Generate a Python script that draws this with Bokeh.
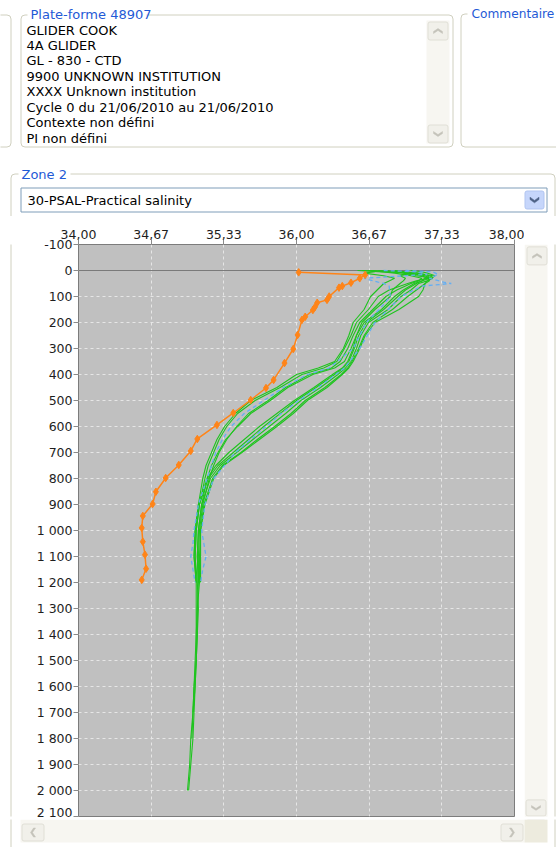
from bokeh.plotting import figure
from bokeh.models import Range1d, FixedTicker, BoxAnnotation, Span, ColumnDataSource
from bokeh.layouts import column, row
from bokeh.core.properties import value
from bokeh.embed import file_html
from bokeh.resources import INLINE

# ------------------------------------------------------------------ data
platform_title = "Plate-forme 48907"
platform_lines = [
    "GLIDER COOK",
    "4A GLIDER",
    "GL - 830 - CTD",
    "9900 UNKNOWN INSTITUTION",
    "XXXX Unknown institution",
    "Cycle 0 du 21/06/2010 au 21/06/2010",
    "Contexte non défini",
    "PI non défini",
]
comment_title = "Commentaire"
zone_title = "Zone 2"
parameter_name = "30-PSAL-Practical salinity"

x_ticks = [34.0, 34.6667, 35.3333, 36.0, 36.6667, 37.3333, 38.0]
x_tick_labels = ["34,00", "34,67", "35,33", "36,00", "36,67", "37,33", "38,00"]
y_ticks = [-100, 0, 100, 200, 300, 400, 500, 600, 700, 800, 900, 1000, 1100,
           1200, 1300, 1400, 1500, 1600, 1700, 1800, 1900, 2000, 2100]
y_tick_labels = ["-100", "0", "100", "200", "300", "400", "500", "600", "700",
                 "800", "900", "1 000", "1 100", "1 200", "1 300", "1 400",
                 "1 500", "1 600", "1 700", "1 800", "1 900", "2 000", "2 100"]

# orange profile (with markers)
orange_depth = [7, 17, 30, 47, 60, 66, 100, 113, 124, 140, 152, 178, 190, 248,
                302, 356, 421, 452, 498, 548, 594, 648, 694, 748, 798, 851, 898,
                944, 990, 1043, 1093, 1147, 1190]
orange_sal = [36.02, 36.63, 36.58, 36.50, 36.42, 36.39, 36.30, 36.28, 36.19,
              36.17, 36.15, 36.08, 36.05, 36.01, 35.97, 35.89, 35.79, 35.72,
              35.58, 35.42, 35.27, 35.09, 35.03, 34.92, 34.80, 34.71, 34.68,
              34.59, 34.58, 34.59, 34.61, 34.62, 34.58]

# green profiles
green_depth = [0, 5, 10, 20, 30, 40, 50, 75, 100, 150, 200, 250, 300, 350, 375,
               400, 450, 500, 550, 600, 650, 700, 750, 800, 900, 1000, 1100, 1200]
green_u1 = [36.70, 36.78, 36.90, 37.05, 37.15, 37.12, 37.05, 36.92, 36.82, 36.70,
            36.58, 36.52, 36.47, 36.40, 36.32, 36.12, 35.90, 35.74, 35.56, 35.45,
            35.36, 35.29, 35.24, 35.20, 35.14, 35.11, 35.10, 35.10]
green_u2 = [36.60, 36.95, 37.00, 37.18, 37.22, 37.15, 37.08, 36.98, 36.90, 36.78,
            36.62, 36.55, 36.50, 36.44, 36.35, 36.15, 35.92, 35.76, 35.58, 35.46,
            35.35, 35.28, 35.22, 35.18, 35.13, 35.10, 35.09, 35.10]
green_u3 = [36.75, 36.85, 37.10, 37.25, 37.20, 37.10, 37.02, 36.85, 36.75, 36.66,
            36.55, 36.50, 36.44, 36.37, 36.25, 36.05, 35.85, 35.62, 35.46, 35.36,
            35.29, 35.24, 35.19, 35.16, 35.11, 35.08, 35.07, 35.08]
green_u4 = [36.68, 36.72, 36.62, 36.80, 36.90, 36.85, 36.80, 36.74, 36.68, 36.62,
            36.52, 36.48, 36.43, 36.35, 36.20, 36.00, 35.82, 35.58, 35.44, 35.34,
            35.27, 35.22, 35.17, 35.14, 35.10, 35.07, 35.06, 35.08]
green_l1 = [36.80, 36.90, 37.05, 37.15, 37.20, 37.22, 37.18, 37.10, 37.02, 36.88,
            36.70, 36.62, 36.57, 36.51, 36.47, 36.41, 36.26, 36.08, 35.95, 35.80,
            35.64, 35.49, 35.32, 35.23, 35.15, 35.12, 35.11, 35.11]
green_l2 = [36.65, 36.92, 36.98, 37.10, 37.25, 37.20, 37.12, 37.05, 36.96, 36.84,
            36.66, 36.59, 36.55, 36.50, 36.45, 36.38, 36.22, 36.04, 35.90, 35.75,
            35.60, 35.45, 35.30, 35.21, 35.13, 35.10, 35.09, 35.10]
green_l3 = [36.90, 37.00, 37.12, 37.22, 37.18, 37.15, 37.10, 37.00, 36.93, 36.80,
            36.64, 36.57, 36.53, 36.48, 36.43, 36.35, 36.18, 36.00, 35.85, 35.70,
            35.56, 35.42, 35.28, 35.19, 35.11, 35.08, 35.07, 35.09]
green_l4 = [36.56, 36.75, 37.05, 36.95, 37.00, 36.98, 36.95, 36.88, 36.86, 36.72,
            36.60, 36.55, 36.52, 36.47, 36.42, 36.33, 36.16, 35.98, 35.82, 35.66,
            35.52, 35.38, 35.26, 35.18, 35.10, 35.07, 35.06, 35.08]
green_l5 = [37.05, 37.15, 37.20, 37.27, 37.24, 37.20, 37.18, 37.16, 37.12, 36.94,
            36.72, 36.63, 36.58, 36.52, 36.48, 36.42, 36.28, 36.10, 35.97, 35.82,
            35.66, 35.50, 35.33, 35.24, 35.16, 35.12, 35.12, 35.12]

# deeper continuation of some green profiles (below 1200 m)
deep_depth = [1300, 1400, 1500, 1600, 1700, 1800, 1900, 2000]
deep_l1 = [35.09, 35.09, 35.08, 35.07, 35.06, 35.05, 35.03, 35.01]
deep_l2 = [35.09, 35.08, 35.08, 35.07, 35.05, 35.04]
deep_l3 = [35.10, 35.09, 35.08, 35.06, 35.05, 35.03, 35.02, 35.00]
deep_l4 = [35.08, 35.08, 35.07, 35.06, 35.05]

# blue dashed profiles
blue_depth = [0, 5, 15, 30, 45, 50, 60, 100, 150, 200, 300, 375, 400, 450, 500,
              550, 600, 650, 700, 800, 900, 1000, 1050, 1100, 1150, 1200]
blue_1 = [37.00, 37.25, 37.30, 37.22, 37.35, 37.42, 37.15, 36.96, 36.84, 36.72,
          36.58, 36.44, 36.36, 36.20, 36.02, 35.86, 35.72, 35.58, 35.44, 35.24,
          35.16, 35.13, 35.15, 35.17, 35.14, 35.12]
blue_2 = [36.80, 37.10, 37.20, 36.62, 36.75, 36.80, 36.85, 36.86, 36.76, 36.64,
          36.52, 36.30, 36.10, 35.88, 35.70, 35.52, 35.40, 35.32, 35.26, 35.18,
          35.10, 35.06, 35.05, 35.03, 35.05, 35.07]

# ------------------------------------------------------------------ styles
FONT = "DejaVu Sans"
GB = "#d0d0bf"        # group box border
TITLE = "#1f5ad6"     # group box title
BTN_FILL = "#f1f0ea"
BTN_LINE = "#e0dfd6"
ARROW = "#c4c3ba"
TRACK = "#f7f6f1"


def draw_chrome(f, bx0, by0, bx1, by1):
    """Window chrome around the chart, in page-pixel coordinates; only the
    pieces that fall inside this figure's region are drawn."""
    def inside(x, y):
        return bx0 <= x < bx1 and by0 <= y < by1

    def overlaps(x0, y0, x1, y1):
        return x0 < bx1 and x1 > bx0 and y0 < by1 and y1 > by0

    def box(x0, y0, x1, y1, fill=None, line=None, radius=0):
        if not overlaps(x0 - 1, y0 - 1, x1 + 1, y1 + 1):
            return
        f.add_layout(BoxAnnotation(
            left=x0, right=x1, top=y0, bottom=y1,
            fill_color=fill if fill else "white", fill_alpha=1 if fill else 0,
            line_color=line if line else "white", line_alpha=1 if line else 0,
            line_width=1, border_radius=radius, level="underlay"))

    def txt(xs, ys, texts, color="black", size="13px"):
        keep = [(a, b, s) for a, b, s in zip(xs, ys, texts) if inside(a, b)]
        if not keep:
            return
        f.text(x=[k[0] for k in keep], y=[k[1] for k in keep],
               text=[k[2] for k in keep], text_font=value(FONT),
               text_font_size=value(size), text_color=color,
               text_baseline="middle", text_align="left")

    def chevron(cx, cy, d, color, w=4.5, h=2.5, t=2.0):
        if not inside(cx, cy):
            return
        if d == "down":
            pts = [(cx - w, cy - h), (cx, cy + h - t), (cx + w, cy - h),
                   (cx + w, cy - h + t), (cx, cy + h), (cx - w, cy - h + t)]
        elif d == "up":
            pts = [(cx - w, cy + h), (cx, cy - h + t), (cx + w, cy + h),
                   (cx + w, cy + h - t), (cx, cy - h), (cx - w, cy + h - t)]
        elif d == "right":
            pts = [(cx - h, cy - w), (cx + h - t, cy), (cx - h, cy + w),
                   (cx - h + t, cy + w), (cx + h, cy), (cx - h + t, cy - w)]
        else:
            pts = [(cx + h, cy - w), (cx - h + t, cy), (cx + h, cy + w),
                   (cx + h - t, cy + w), (cx - h, cy), (cx + h - t, cy - w)]
        f.patch([a for a, _ in pts], [b for _, b in pts], fill_color=color,
                line_color=color, line_width=0.5)

    # group boxes
    box(-40, 14.5, 10.5, 146.5, line=GB, radius=4)
    box(20.5, 14.5, 452.5, 146.5, line=GB, radius=4)
    box(460.5, 13.5, 640, 146.5, line=GB, radius=4)
    box(10.5, 173.5, 554.5, 900, line=GB, radius=4)

    # titles (white gaps in the group box borders)
    box(27, 5, 146, 23, fill="white")
    box(467, 5, 560, 23, fill="white")
    box(18, 165, 70, 183, fill="white")
    txt([30, 21], [14, 174], [platform_title, zone_title], color=TITLE)
    txt([471], [13.5], [comment_title], color=TITLE, size="12.2px")

    # platform description list
    txt([26] * len(platform_lines),
        [29.5 + i * 15.45 for i in range(len(platform_lines))], platform_lines)

    # list scrollbar
    box(426, 20, 449, 143, fill=TRACK)
    box(427.5, 21.5, 447.5, 39.5, fill=BTN_FILL, line=BTN_LINE, radius=2)
    chevron(437.5, 30.5, "up", ARROW)
    box(427.5, 124.5, 447.5, 142.5, fill=BTN_FILL, line=BTN_LINE, radius=2)
    chevron(437.5, 133.5, "down", ARROW)

    # parameter combo box
    box(20.5, 187.5, 546.5, 211.5, fill="white", line="#7f9db9")
    txt([27], [199.5], [parameter_name])
    box(524.5, 190.5, 543.5, 208.5, fill="#c6d6fb", line="#b1c5f1", radius=2)
    chevron(534, 199.5, "down", "#4d6185", w=4.5, h=2.8, t=2.4)

    # chart scrollbars
    box(524, 216, 547, 819, fill=TRACK)
    box(526.5, 218.5, 546.5, 237.5, fill=BTN_FILL, line=BTN_LINE, radius=2)
    chevron(536.5, 228, "up", ARROW)
    box(525.5, 801.5, 545.5, 818.5, fill=BTN_FILL, line=BTN_LINE, radius=2)
    chevron(535.5, 810, "down", ARROW)
    box(20, 819, 524, 842, fill=TRACK)
    box(21.5, 823.5, 43.5, 840.5, fill=BTN_FILL, line=BTN_LINE, radius=2)
    chevron(32.5, 832, "left", ARROW)
    box(500.5, 823.5, 522.5, 840.5, fill=BTN_FILL, line=BTN_LINE, radius=2)
    chevron(511.5, 832, "right", ARROW)
    box(524, 819, 547, 842, fill="#edebde")


def chrome_figure(x0, y0, w, h):
    f = figure(width=w, height=h, output_backend="svg", toolbar_location=None,
               x_range=Range1d(x0, x0 + w), y_range=Range1d(y0 + h, y0),
               x_axis_type=None, y_axis_type=None, title=None, min_border=0)
    f.outline_line_color = None
    f.background_fill_color = "white"
    f.border_fill_color = "white"
    draw_chrome(f, x0, y0, x0 + w, y0 + h)
    return f


# ------------------------------------------------------------------ chart
p = figure(width=506, height=603, output_backend="svg", toolbar_location=None,
           title=None, x_range=Range1d(34, 38), y_range=Range1d(2100, -100),
           x_axis_location="above",
           min_border_left=60, min_border_right=10,
           min_border_top=28, min_border_bottom=3)
p.background_fill_color = "#c0c0c0"
p.border_fill_color = "white"
p.outline_line_color = "#7c7c7c"
p.outline_line_width = 1

for ax in (p.xaxis[0], p.yaxis[0]):
    ax.axis_line_color = None
    ax.major_tick_in = 0
    ax.major_tick_out = 5
    ax.minor_tick_out = 0
    ax.minor_tick_in = 0
    ax.major_tick_line_color = "#8a8a8a"
    ax.major_label_text_font = FONT
    ax.major_label_text_font_size = "12.5px"
    ax.major_label_text_color = "#1e1e1e"
    ax.major_label_standoff = 1

p.xaxis[0].ticker = FixedTicker(ticks=x_ticks)
p.xaxis[0].major_label_overrides = dict(zip(x_ticks, x_tick_labels))
p.yaxis[0].ticker = FixedTicker(ticks=y_ticks)
p.yaxis[0].major_label_overrides = dict(zip(y_ticks, y_tick_labels))

for g in (p.xgrid[0], p.ygrid[0]):
    g.grid_line_color = "#e6e6e6"
    g.grid_line_dash = "3 3"
    g.grid_line_width = 1

p.add_layout(Span(location=0, dimension="width", line_color="#7a7a7a",
                  line_width=1.2, level="underlay"))

green_profiles = [green_u1, green_u2, green_u3, green_u4,
                  green_l1, green_l2, green_l3, green_l4, green_l5]
deep_ext = {4: deep_l1, 5: deep_l2, 6: deep_l3, 7: deep_l4}
gxs, gys = [], []
for i, prof in enumerate(green_profiles):
    ext = deep_ext.get(i, [])
    gxs.append(prof + ext)
    gys.append(green_depth + deep_depth[:len(ext)])
p.multi_line(xs="xs", ys="ys", source=ColumnDataSource(dict(xs=gxs, ys=gys)),
             line_color="#1ec41e", line_width=1.1)

p.multi_line(xs="xs", ys="ys",
             source=ColumnDataSource(dict(xs=[blue_1, blue_2],
                                          ys=[blue_depth, blue_depth])),
             line_color="#64aef2", line_width=1.3, line_dash="4 3")

osrc = ColumnDataSource(dict(x=orange_sal, y=orange_depth))
p.line("x", "y", source=osrc, line_color="#ff8418", line_width=1.5)
p.scatter("x", "y", source=osrc, marker="diamond", size=7.5,
          fill_color="#ff8418", line_color="#ff8418")

# ------------------------------------------------------------------ page
top = chrome_figure(0, 0, 556, 216)
left = chrome_figure(0, 216, 18, 603)
right = chrome_figure(524, 216, 32, 603)
bottom = chrome_figure(0, 819, 556, 28)

page = column(top, row(left, p, right), bottom)
open("out.html", "w").write(file_html(page, INLINE))
